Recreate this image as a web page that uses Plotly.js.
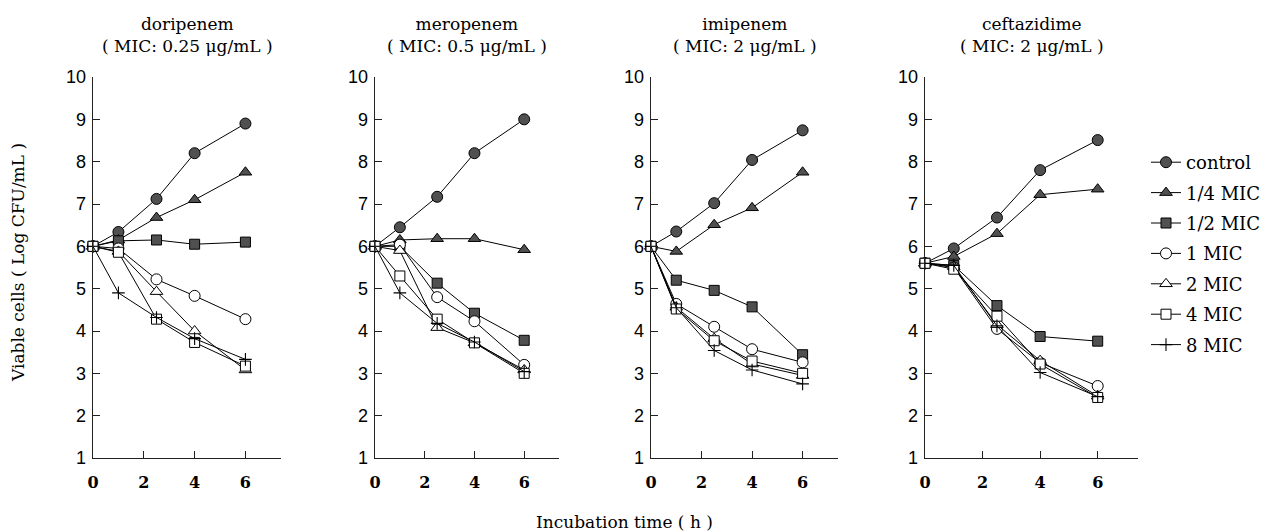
<!DOCTYPE html>
<html>
<head>
<meta charset="utf-8">
<script src="https://cdn.plot.ly/plotly-3.0.1.min.js"></script>
<style>html,body{margin:0;padding:0;background:#fff;}#chart{width:1263px;height:532px;}</style>
</head>
<body>
<div id="chart"></div>
<script>
// ---- data ----
const hours = [0, 1, 2.5, 4, 6];
const seriesNames = ["control", "1/4 MIC", "1/2 MIC", "1 MIC", "2 MIC", "4 MIC", "8 MIC"];
const drugNames = ["doripenem", "meropenem", "imipenem", "ceftazidime"];
const drugMIC = ["( MIC: 0.25 μg/mL )", "( MIC: 0.5 μg/mL )", "( MIC: 2 μg/mL )", "( MIC: 2 μg/mL )"];

const doripenem = [
  [6, 6.34, 7.12, 8.20, 8.90],
  [6, 6.15, 6.68, 7.10, 7.75],
  [6, 6.13, 6.15, 6.05, 6.10],
  [6, 5.95, 5.22, 4.83, 4.28],
  [6, 5.88, 4.93, 4.00, 3.08],
  [6, 5.86, 4.28, 3.73, 3.17],
  [6, 4.90, 4.32, 3.82, 3.33]
];
const meropenem = [
  [6, 6.45, 7.17, 8.20, 9.00],
  [6, 6.15, 6.18, 6.18, 5.92],
  [6, 6.00, 5.13, 4.42, 3.78],
  [6, 6.04, 4.80, 4.23, 3.20],
  [6, 5.90, 4.08, 3.72, 3.08],
  [6, 5.30, 4.28, 3.72, 3.00],
  [6, 4.90, 4.18, 3.74, 3.04]
];
const imipenem = [
  [6, 6.35, 7.02, 8.04, 8.74],
  [6, 5.88, 6.51, 6.91, 7.75],
  [6, 5.20, 4.96, 4.57, 3.44],
  [6, 4.64, 4.10, 3.57, 3.26],
  [6, 4.56, 3.82, 3.22, 2.95],
  [6, 4.52, 3.77, 3.29, 3.00],
  [6, 4.55, 3.54, 3.08, 2.75]
];
const ceftazidime = [
  [5.6, 5.95, 6.68, 7.80, 8.51],
  [5.6, 5.76, 6.30, 7.22, 7.35],
  [5.6, 5.55, 4.60, 3.87, 3.76],
  [5.6, 5.50, 4.05, 3.25, 2.70],
  [5.6, 5.52, 4.15, 3.30, 2.46],
  [5.6, 5.46, 4.35, 3.22, 2.43],
  [5.6, 5.55, 4.12, 3.02, 2.45]
];
const xTicks = [0, 2, 4, 6];
const yTicks = [1, 2, 3, 4, 5, 6, 7, 8, 9, 10];

// ---- styles ----
const DARK = "#505050";
const markerStyles = [
  {symbol: "circle", size: 11, color: DARK},
  {symbol: "triangle-up", size: 11, color: DARK},
  {symbol: "square", size: 10, color: DARK},
  {symbol: "circle", size: 11, color: "white"},
  {symbol: "triangle-up", size: 11, color: "white"},
  {symbol: "square", size: 10, color: "white"},
  {symbol: "cross-thin", size: 9, color: "black"}
];
const allData = [doripenem, meropenem, imipenem, ceftazidime];
const domainsX = [[93/1263, 281/1263], [375/1263, 559/1263], [651/1263, 838/1263], [925/1263, 1138/1263]];
const domY = [1 - 458/532, 1 - 77/532];
const SERIF = "DejaVu Serif, serif";

const traces = [];
allData.forEach((panel, p) => {
  const ax = p === 0 ? "" : String(p + 1);
  panel.forEach((vals, s) => {
    const ms = markerStyles[s];
    const isCross = ms.symbol === "cross-thin";
    traces.push({
      type: "scatter", mode: "lines+markers",
      x: hours, y: vals,
      xaxis: "x" + ax, yaxis: "y" + ax,
      name: seriesNames[s],
      legendgroup: "g" + s,
      showlegend: p === 0,
      line: {color: "black", width: 1},
      marker: {symbol: ms.symbol, size: ms.size, color: ms.color,
               line: {color: "black", width: isCross ? 1.1 : 1}},
      cliponaxis: false
    });
  });
});

const layout = {
  width: 1263, height: 532,
  margin: {l: 0, r: 0, t: 0, b: 0, autoexpand: false},
  paper_bgcolor: "white", plot_bgcolor: "white",
  showlegend: true,
  legend: {x: 1146/1263, y: 1 - 144/532, xanchor: "left", yanchor: "top",
           font: {family: SERIF, size: 18, color: "black"},
           traceorder: "grouped", tracegroupgap: 4, itemwidth: 30, bgcolor: "rgba(0,0,0,0)"},
  annotations: [],
  font: {color: "black"}
};

for (let p = 0; p < 4; p++) {
  const ax = p === 0 ? "" : String(p + 1);
  layout["xaxis" + ax] = {
    domain: domainsX[p], range: [0, 7.4], anchor: "y" + ax,
    tickvals: xTicks, ticktext: xTicks.map(String),
    ticks: "inside", ticklen: 7, tickcolor: "#222", tickwidth: 1,
    showline: true, linecolor: "#222", linewidth: 1.3,
    showgrid: false, zeroline: false, fixedrange: true,
    ticklabelstandoff: 9,
    tickfont: {family: SERIF, size: 16, color: "black", weight: "bold"}
  };
  layout["yaxis" + ax] = {
    domain: domY, range: [1, 10], anchor: "x" + ax,
    tickvals: yTicks, ticktext: yTicks.map(String),
    ticks: "inside", ticklen: 7, tickcolor: "#222", tickwidth: 1,
    showline: true, linecolor: "#222", linewidth: 1.3,
    showgrid: false, zeroline: false, fixedrange: true,
    ticklabelstandoff: 2,
    tickfont: {family: "Liberation Sans, Arial, sans-serif", size: 18, color: "black"}
  };
  layout.annotations.push({
    text: drugNames[p] + "<br>" + drugMIC[p],
    xref: "paper", yref: "paper",
    x: (domainsX[p][0] + domainsX[p][1]) / 2, y: 1 - 35/532,
    xanchor: "center", yanchor: "middle", showarrow: false,
    font: {family: SERIF, size: 17, color: "black"}
  });
}
layout.annotations.push({
  text: "Incubation time ( h )", xref: "paper", yref: "paper",
  x: 624/1263, y: 1 - 522/532, xanchor: "center", yanchor: "middle", showarrow: false,
  font: {family: SERIF, size: 17, color: "black"}
});
layout.annotations.push({
  text: "Viable cells ( Log CFU/mL )", xref: "paper", yref: "paper",
  x: 18/1263, y: 1 - 263/532, xanchor: "center", yanchor: "middle", showarrow: false,
  textangle: -90,
  font: {family: SERIF, size: 17, color: "black"}
});

Plotly.newPlot("chart", traces, layout, {staticPlot: true, displayModeBar: false});
</script>
</body>
</html>
